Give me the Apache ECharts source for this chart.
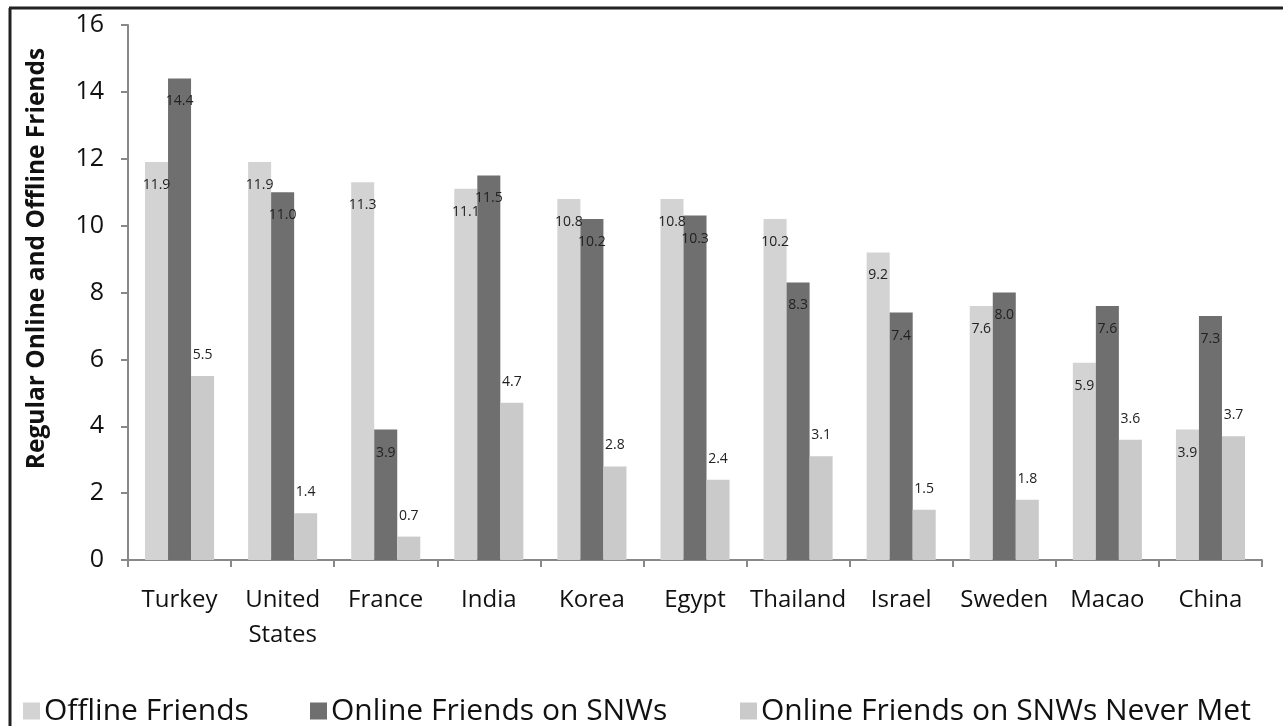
<!DOCTYPE html>
<html>
<head>
<meta charset="utf-8">
<script src="https://cdn.jsdelivr.net/npm/echarts@6/dist/echarts.min.js"></script>
<style>
  html, body { margin: 0; padding: 0; background: #fff; }
  #chart { width: 1283px; height: 726px; }
</style>
</head>
<body>
<div id="chart"></div>
<script>
// Countries along the x axis
const countries = ['Turkey', 'United States', 'France', 'India', 'Korea', 'Egypt', 'Thailand', 'Israel', 'Sweden', 'Macao', 'China'];

// Average number of friends per respondent, by country
const offlineFriends   = [11.9, 11.9, 11.3, 11.1, 10.8, 10.8, 10.2, 9.2, 7.6, 5.9, 3.9];
const onlineFriends    = [14.4, 11.0, 3.9, 11.5, 10.2, 10.3, 8.3, 7.4, 8.0, 7.6, 7.3];
const neverMetFriends  = [5.5, 1.4, 0.7, 4.7, 2.8, 2.4, 3.1, 1.5, 1.8, 3.6, 3.7];

const seriesNames = ['Offline Friends', 'Online Friends on SNWs', 'Online Friends on SNWs Never Met'];
const yTicks = { min: 0, max: 16, interval: 2 };

const FONT = '"Open Sans", Lato, sans-serif';
const colors = ['#d3d3d3', '#6f6f6f', '#cacaca'];

const insideLabel = {
  show: true,
  position: 'insideTop',
  distance: 16,
  fontFamily: FONT,
  fontSize: 14,
  color: '#222',
  formatter: p => p.value.toFixed(1)
};

const chart = echarts.init(document.getElementById('chart'), null, { renderer: 'canvas' });

chart.setOption({
  animation: false,
  backgroundColor: '#fff',
  textStyle: { fontFamily: FONT },
  grid: { left: 128, right: 21, top: 25, bottom: 166, containLabel: false },
  legend: seriesNames.map((name, i) => ({
    data: [name],
    left: [18, 305, 735][i],
    top: 691,
    itemWidth: 17,
    itemHeight: 17,
    itemGap: 4,
    icon: 'rect',
    textStyle: { fontFamily: FONT, fontSize: 30, color: '#111', padding: [0, 0, 0, -1] }
  })),
  xAxis: {
    type: 'category',
    data: countries,
    boundaryGap: true,
    axisLine: { lineStyle: { color: '#888', width: 2 } },
    axisTick: { show: true, length: 7, lineStyle: { color: '#888', width: 2 } },
    axisLabel: {
      fontFamily: FONT,
      fontSize: 24,
      color: '#111',
      margin: 23,
      lineHeight: 35,
      interval: 0,
      formatter: v => v.replace(' ', '\n')
    }
  },
  yAxis: {
    type: 'value',
    min: yTicks.min,
    max: yTicks.max,
    interval: yTicks.interval,
    name: 'Regular Online and Offline Friends',
    nameLocation: 'middle',
    nameRotate: 90,
    nameGap: 78,
    nameTextStyle: {
      fontFamily: FONT, fontSize: 24.5, fontWeight: 'bold', color: '#111',
      padding: [0, 0, 0, 68]
    },
    axisLine: { show: true, lineStyle: { color: '#888', width: 2 } },
    axisTick: { show: true, length: 7, lineStyle: { color: '#888', width: 2 } },
    splitLine: { show: false },
    axisLabel: { fontFamily: FONT, fontSize: 25, color: '#111', margin: 24 }
  },
  series: [
    {
      name: seriesNames[0], type: 'bar', data: offlineFriends,
      itemStyle: { color: colors[0] },
      barGap: '0%', barCategoryGap: '33%',
      label: insideLabel
    },
    {
      name: seriesNames[1], type: 'bar', data: onlineFriends,
      itemStyle: { color: colors[1] },
      barGap: '0%', barCategoryGap: '33%',
      label: insideLabel
    },
    {
      name: seriesNames[2], type: 'bar', data: neverMetFriends,
      itemStyle: { color: colors[2] },
      barGap: '0%', barCategoryGap: '33%',
      label: Object.assign({}, insideLabel, { position: 'top', distance: 14 })
    }
  ],
  graphic: [
    // frame lines along the top and left edges
    { type: 'line', shape: { x1: 9, y1: 8, x2: 1283, y2: 8 }, style: { stroke: '#222', lineWidth: 3 } },
    { type: 'line', shape: { x1: 10, y1: 8, x2: 10, y2: 726 }, style: { stroke: '#222', lineWidth: 3 } }
  ]
});
</script>
</body>
</html>
